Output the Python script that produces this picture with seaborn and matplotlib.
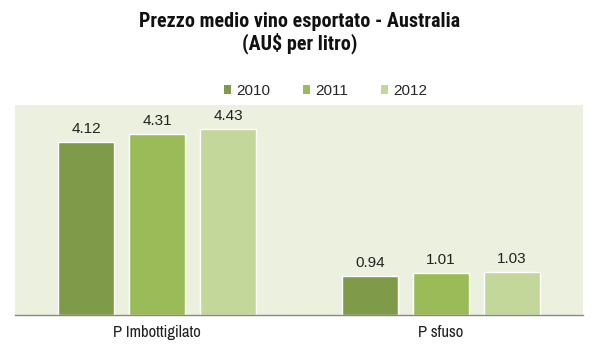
import matplotlib
matplotlib.use("Agg")
import matplotlib.pyplot as plt
import seaborn as sns
import pandas as pd
from matplotlib.patches import Patch

categories = ["P Imbottigilato", "P sfuso"]
years = ["2010", "2011", "2012"]
values_2010 = [4.12, 0.94]
values_2011 = [4.31, 1.01]
values_2012 = [4.43, 1.03]
colors = ["#7F9A48", "#9BBB59", "#C4D79B"]

rows = []
for y, vals in zip(years, [values_2010, values_2011, values_2012]):
    for c, v in zip(categories, vals):
        rows.append({"cat": c, "year": y, "val": v})
df = pd.DataFrame(rows)

sns.set_theme(style="white")
plt.rcParams["font.family"] = ["Liberation Sans", "DejaVu Sans"]
NARROW = ["Archivo Narrow", "Roboto Condensed", "Liberation Sans", "DejaVu Sans"]
TITLEF = ["Roboto Condensed", "Liberation Sans", "DejaVu Sans"]

fig = plt.figure(figsize=(5.99, 3.51), dpi=100)
ax = fig.add_axes([15 / 599, 1 - 315 / 351, 568 / 599, 210 / 351])
ax.set_facecolor("#EBF1DE")

sns.barplot(data=df, x="cat", y="val", hue="year", order=categories, hue_order=years,
            palette=colors, width=0.75, gap=0.21, edgecolor="white", linewidth=1.0,
            saturation=1, ax=ax, legend=False)

for cont in ax.containers:
    ax.bar_label(cont, fmt="%.2f", padding=4, fontsize=11, color="#222222")

ax.set_ylim(0, 5.0)
ax.set_xlim(-0.5, 1.5)
ax.set_yticks([])
ax.set_xlabel("")
ax.set_ylabel("")
for s in ["top", "left", "right"]:
    ax.spines[s].set_visible(False)
ax.spines["bottom"].set_color("#888888")
ax.spines["bottom"].set_linewidth(1.0)
ax.tick_params(axis="x", length=0, pad=7, labelsize=12, labelcolor="#222222")
for t in ax.get_xticklabels():
    t.set_family(NARROW)

fig.text(0.5, 1 - 33 / 351, "Prezzo medio vino esportato - Australia\n(AU$ per litro)",
         ha="center", va="center", fontsize=14.5, fontweight="bold", linespacing=1.12,
         family=TITLEF, color="#111111")

handles = [Patch(facecolor=c, edgecolor="none") for c in colors]
fig.legend(handles, years, loc="center", bbox_to_anchor=(325.5 / 599, 1 - 91 / 351), ncol=3,
           frameon=False, handlelength=0.46, handleheight=0.46, handletextpad=0.33,
           columnspacing=2.15, borderpad=0, borderaxespad=0,
           prop={"family": ["Liberation Sans", "DejaVu Sans"], "size": 11})

fig.savefig("out.png", dpi=100, facecolor="white")
